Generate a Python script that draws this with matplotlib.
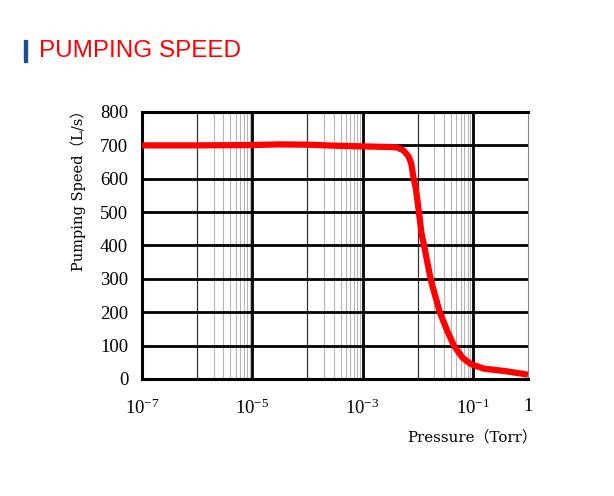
import numpy as np
import matplotlib.pyplot as plt
from matplotlib.patches import Rectangle

# pumping speed curve
pressure = [1e-7, 1e-6, 1e-5, 3.2e-5, 1e-4, 3.2e-4, 1e-3, 3.2e-3, 4.17e-3, 5.5e-3,
            6.8e-3, 7.6e-3, 8.3e-3, 9.3e-3, 1.02e-2, 1.17e-2, 1.30e-2, 1.74e-2,
            2.51e-2, 3.43e-2, 4.53e-2, 6.46e-2, 9.1e-2, 0.158, 0.37, 1.0]
speed = [700, 700, 701, 703, 702, 699, 697, 695, 694, 685, 667, 647, 607, 567,
         516, 436, 400, 294, 200, 144, 100, 64, 45, 31, 24, 13]

y_ticks = [0, 100, 200, 300, 400, 500, 600, 700, 800]
x_ticks = [1e-7, 1e-5, 1e-3, 1e-1, 1]
x_ticklabels = [r"$10^{-7}$", r"$10^{-5}$", r"$10^{-3}$", r"$10^{-1}$", "1"]

plt.rcParams["mathtext.fontset"] = "stix"
plt.rcParams["mathtext.default"] = "regular"
SERIF = ["Liberation Serif", "DejaVu Serif"]
LABEL_FONT = ["DejaVu Serif", "Noto Sans CJK SC"]

fig = plt.figure(figsize=(6.14, 4.96), dpi=100)
ax = fig.add_axes([0.2313, 0.2359, 0.6287, 0.5383])
ax.set_xscale("log")
ax.set_xlim(1e-7, 1)
ax.set_ylim(0, 800)

# grid: thick decades every other, thin decades and minors in between
for e in [-5, -3, -1]:
    ax.axvline(10.0**e, color="black", lw=2.0, zorder=2)
for e in [-6, -4, -2]:
    ax.axvline(10.0**e, color="#333333", lw=0.9, zorder=1.5)
    for m in range(2, 10):
        ax.axvline(m * 10.0**e, color="#b5b5b5", lw=0.8, zorder=1)
for v in y_ticks[1:-1]:
    ax.axhline(v, color="black", lw=2.0, zorder=2)

ax.plot(pressure, speed, color="#ff0000", lw=4.5, zorder=3,
        solid_capstyle="butt", solid_joinstyle="round", clip_on=False)

for s in ["left", "bottom", "top"]:
    ax.spines[s].set_linewidth(2.2)
ax.spines["right"].set_linewidth(0.8)
ax.spines["right"].set_color("#888888")

ax.set_xticks(x_ticks)
ax.set_xticklabels(x_ticklabels)
ax.xaxis.set_minor_locator(plt.NullLocator())
ax.set_yticks(y_ticks)
ax.tick_params(axis="both", length=0, labelsize=13.5)
ax.tick_params(axis="x", pad=14)
ax.tick_params(axis="y", pad=10)
for lab in ax.get_xticklabels() + ax.get_yticklabels():
    lab.set_family(SERIF)

fig.text(0.127, 0.623, "Pumping Speed\uff08L/s\uff09", rotation=90, ha="center",
         va="center", fontsize=10.5, family=LABEL_FONT)
fig.text(0.875, 0.116, "Pressure\uff08Torr\uff09", ha="right", va="center",
         fontsize=10.8, family=LABEL_FONT)

# header
fig.patches.append(Rectangle((0.039, 0.874), 0.0055, 0.046, transform=fig.transFigure,
                             color="#1f4e8c", figure=fig))
fig.text(0.063, 0.898, "PUMPING SPEED", color="#ff0000", fontsize=17.5,
         family="Liberation Sans", ha="left", va="center")

fig.savefig("out.png", dpi=100)
